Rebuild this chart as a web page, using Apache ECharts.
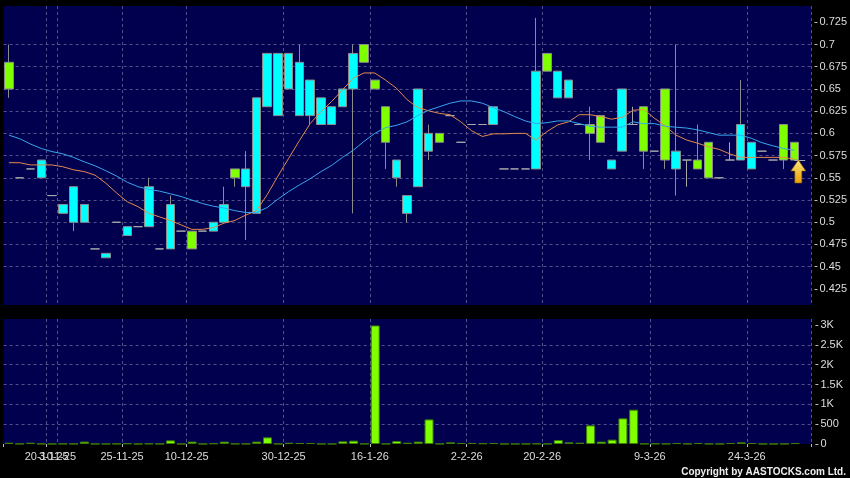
<!DOCTYPE html>
<html>
<head>
<meta charset="utf-8">
<script src="https://cdn.jsdelivr.net/npm/echarts@6/dist/echarts.min.js"></script>
<style>
html,body{margin:0;padding:0;background:#000;}
#chart{width:850px;height:478px;}
</style>
</head>
<body>
<div id="chart"></div>
<script>
// ---- data ----
const opens  = [0.68,0.55,0.56,0.55,0.53,0.51,0.50,0.50,0.47,0.46,0.50,0.485,0.495,0.495,0.47,0.47,0.49,0.49,0.49,0.49,
                0.50,0.56,0.54,0.51,0.63,0.62,0.65,0.62,0.62,0.61,0.61,0.63,0.65,0.70,0.66,0.63,0.55,0.51,0.54,0.58,
                0.60,0.62,0.59,0.61,0.61,0.61,0.56,0.56,0.56,0.56,0.69,0.64,0.64,0.61,0.61,0.62,0.56,0.58,0.61,0.63,
                0.58,0.65,0.56,0.57,0.57,0.59,0.55,0.57,0.57,0.56,0.58,0.57,0.61,0.59];
const closes = [0.65,0.55,0.56,0.57,0.53,0.52,0.54,0.52,0.47,0.465,0.50,0.495,0.495,0.54,0.47,0.52,0.49,0.47,0.49,0.50,
                0.52,0.55,0.56,0.64,0.69,0.69,0.69,0.68,0.66,0.64,0.63,0.65,0.69,0.68,0.65,0.59,0.57,0.53,0.65,0.60,
                0.59,0.62,0.59,0.61,0.61,0.63,0.56,0.56,0.56,0.67,0.67,0.67,0.66,0.61,0.60,0.59,0.57,0.65,0.61,0.58,
                0.58,0.57,0.58,0.57,0.56,0.55,0.55,0.57,0.61,0.59,0.58,0.57,0.57,0.57];
const lows   = [0.64,0.55,0.56,0.55,0.53,0.51,0.49,0.50,0.47,0.46,0.50,0.485,0.495,0.495,0.47,0.47,0.49,0.47,0.49,0.49,
                0.50,0.54,0.48,0.51,0.63,0.62,0.65,0.62,0.61,0.61,0.61,0.63,0.51,0.68,0.65,0.56,0.54,0.50,0.54,0.57,
                0.59,0.62,0.59,0.61,0.61,0.61,0.56,0.56,0.56,0.56,0.67,0.64,0.64,0.61,0.57,0.59,0.56,0.58,0.61,0.56,
                0.58,0.56,0.53,0.54,0.56,0.55,0.55,0.57,0.57,0.56,0.58,0.57,0.56,0.57];
const highs  = [0.70,0.55,0.56,0.57,0.53,0.52,0.54,0.52,0.47,0.465,0.50,0.495,0.495,0.55,0.47,0.53,0.49,0.49,0.49,0.50,
                0.54,0.56,0.58,0.64,0.69,0.69,0.69,0.70,0.66,0.64,0.63,0.65,0.70,0.70,0.66,0.63,0.57,0.53,0.65,0.61,
                0.60,0.62,0.59,0.61,0.61,0.63,0.56,0.56,0.56,0.73,0.69,0.67,0.66,0.61,0.63,0.62,0.57,0.65,0.63,0.63,
                0.58,0.65,0.70,0.57,0.61,0.59,0.55,0.59,0.66,0.59,0.58,0.57,0.61,0.59];
const volumes = [33,5,33,5,3,5,5,60,3,3,5,15,3,10,3,92,3,60,3,15,
                 60,5,5,60,168,5,33,25,25,3,3,67,84,5,2990,5,75,33,60,620,
                 5,42,25,25,17,25,3,3,3,10,5,100,42,33,470,60,110,647,865,5,
                 10,5,25,5,25,5,3,25,42,25,3,3,5,25];
const maShort = [0.567,0.567,0.5645,0.5645,0.5645,0.5625,0.559,0.557,0.553,0.544,0.533,0.523,0.5175,0.510,0.506,0.502,0.497,0.492,0.492,0.494,
                 0.499,0.502,0.508,0.513,0.531,0.552,0.572,0.592,0.611,0.6245,0.636,0.649,0.662,0.668,0.668,0.660,0.651,0.638,0.629,0.6255,
                 0.6225,0.621,0.613,0.603,0.5965,0.5995,0.5995,0.600,0.600,0.5925,0.602,0.6095,0.613,0.621,0.621,0.619,0.616,0.618,0.626,0.627,
                 0.617,0.6085,0.598,0.5925,0.589,0.585,0.582,0.577,0.573,0.573,0.573,0.573,0.573,0.571];
const maLong  = [0.598,0.594,0.588,0.583,0.5795,0.577,0.573,0.568,0.5635,0.558,0.552,0.545,0.540,0.537,0.535,0.532,0.529,0.525,0.521,0.518,
                 0.516,0.513,0.511,0.511,0.5165,0.526,0.5345,0.542,0.549,0.557,0.564,0.573,0.581,0.591,0.600,0.6065,0.609,0.613,0.620,0.626,
                 0.630,0.634,0.6365,0.6365,0.634,0.629,0.6245,0.619,0.614,0.611,0.612,0.614,0.614,0.611,0.608,0.607,0.607,0.607,0.613,0.611,
                 0.611,0.608,0.607,0.606,0.604,0.601,0.598,0.598,0.598,0.5945,0.5895,0.586,0.583,0.581];
const labelIdx  = [4, 5, 11, 17, 26, 34, 43, 50, 60, 69];
const labelText = ['20-10-25','3-11-25','25-11-25','10-12-25','30-12-25','16-1-26','2-2-26','20-2-26','9-3-26','24-3-26'];
const priceTicks = [0.425,0.45,0.475,0.5,0.525,0.55,0.575,0.6,0.625,0.65,0.675,0.7,0.725];
const volTicks = [0,500,1000,1500,2000,2500,3000];

// ---- build ----
const N = opens.length + 1; // one empty slot at the right edge
const cats = Array.from({length: N}, (_, i) => 'd' + i);
const labelAt = {};
labelIdx.forEach((k, j) => { labelAt[k] = labelText[j]; });
const isLabeled = (i) => labelAt[i] !== undefined;
// the two overlapping first labels are split over two axes so neither is dropped
const overlapIdx = labelIdx[1];
const onMainAxis = (i) => isLabeled(i) && i !== overlapIdx;
const onOverlayAxis = (i) => i === overlapIdx;
const candles = opens.map((o, i) => [o, closes[i], lows[i], highs[i]]);
const last = closes.length - 1;

const FONT = "'Liberation Sans', Arial, sans-serif";
const PANEL = '#00004f';
const GRIDC = '#50508a';
const TXT = '#dcdcdc';
const L = 3.6, W = 807.8;
const BAND = W / N;

const dashed = {show: true, interval: (i) => isLabeled(i), lineStyle: {color: GRIDC, type: [3, 3], width: 1}};
const xLabel = (fn) => ({show: true, interval: fn, formatter: (v, i) => labelAt[i] || '',
                         hideOverlap: false, color: TXT, fontSize: 11, fontFamily: FONT, margin: 4,
                         padding: [0, BAND, 0, 0]});
const xTick = (fn) => ({show: true, length: 3, interval: fn, lineStyle: {color: '#bbbbbb'}});

const chart = echarts.init(document.getElementById('chart'), null, {renderer: 'canvas'});
chart.setOption({
  animation: false,
  backgroundColor: '#000000',
  textStyle: {fontFamily: FONT},
  grid: [
    {left: L, width: W, top: 0.1, height: 311},
    {left: L, width: W, top: 305.2, height: 138.8},
    {left: L, width: W, top: 6, height: 299, show: true, backgroundColor: PANEL, borderWidth: 0},
    {left: L, width: W, top: 319, height: 125, show: true, backgroundColor: PANEL, borderWidth: 0}
  ],
  xAxis: [
    {type: 'category', gridIndex: 0, data: cats, boundaryGap: true, show: false},
    {type: 'category', gridIndex: 1, data: cats, boundaryGap: true, offset: 3,
     axisLine: {show: false}, axisTick: xTick(onMainAxis), axisLabel: xLabel(onMainAxis),
     splitLine: {show: false}},
    {type: 'category', gridIndex: 2, data: cats, boundaryGap: true,
     axisLine: {show: false}, axisTick: {show: false}, axisLabel: {show: false}, splitLine: dashed},
    {type: 'category', gridIndex: 3, data: cats, boundaryGap: true, offset: 3,
     axisLine: {show: false}, axisTick: xTick(onOverlayAxis), axisLabel: xLabel(onOverlayAxis),
     splitLine: dashed}
  ],
  yAxis: [
    {type: 'value', gridIndex: 0, position: 'right', min: 0.4, max: 0.75, interval: 0.025, offset: 4,
     axisLine: {show: false},
     axisTick: {show: true, length: 3, customValues: priceTicks, lineStyle: {color: '#bbbbbb'}},
     axisLabel: {show: true, customValues: priceTicks, hideOverlap: false,
                 formatter: (v) => String(parseFloat(Number(v).toFixed(3))),
                 color: TXT, fontSize: 11, fontFamily: FONT, margin: 5},
     splitLine: {show: true, showMinLine: false, showMaxLine: false, lineStyle: {color: GRIDC, type: [3, 3], width: 1}}},
    {type: 'value', gridIndex: 1, position: 'right', min: 0, max: 3500, interval: 500, offset: 4,
     axisLine: {show: false},
     axisTick: {show: true, length: 3, customValues: volTicks, lineStyle: {color: '#bbbbbb'}},
     axisLabel: {show: true, customValues: volTicks, hideOverlap: false,
                 formatter: (v) => v >= 1000 ? (v / 1000) + 'K' : String(v),
                 color: TXT, fontSize: 11, fontFamily: FONT, margin: 5},
     splitLine: {show: true, showMinLine: false, showMaxLine: false, lineStyle: {color: GRIDC, type: [3, 3], width: 1}}},
    {type: 'value', gridIndex: 2, show: false, splitLine: {show: false}},
    {type: 'value', gridIndex: 3, show: false, splitLine: {show: false}}
  ],
  series: [
    {type: 'candlestick', xAxisIndex: 0, yAxisIndex: 0, data: candles, barWidth: 9, z: 3,
     itemStyle: {color: '#00ffff', color0: '#80ff00', borderColor: '#8c8c8c', borderColor0: '#8c8c8c',
                 borderColorDoji: '#a8a8a8', borderWidth: 1},
     markLine: {silent: true, symbol: ['none', 'none'], label: {show: false},
                lineStyle: {color: '#a8a8a8', type: 'solid', width: 1},
                data: [[{coord: [cats[last], closes[last]]}, {coord: [cats[last + 1], closes[last]]}]]},
     markPoint: {silent: true, label: {show: false},
                 data: [{coord: [cats[last], closes[last]],
                         symbol: 'path://M7.5,0 L15,11 L11,11 L11,23 L4,23 L4,11 L0,11 Z',
                         symbolSize: [15, 23], symbolOffset: [4, 11.5],
                         itemStyle: {color: new echarts.graphic.LinearGradient(0, 0, 0, 1, [
                           {offset: 0, color: '#ffe680'}, {offset: 1, color: '#e8a000'}]),
                           borderColor: '#8a5a00', borderWidth: 0.6}}]}},
    {type: 'line', xAxisIndex: 0, yAxisIndex: 0, data: maShort, symbol: 'none', z: 4,
     lineStyle: {color: '#e48a4c', width: 1}},
    {type: 'line', xAxisIndex: 0, yAxisIndex: 0, data: maLong, symbol: 'none', z: 4,
     lineStyle: {color: '#3aa6ec', width: 1}},
    {type: 'bar', xAxisIndex: 1, yAxisIndex: 1, data: volumes, barWidth: 9,
     itemStyle: {color: '#80ff00', borderColor: '#3d7d00', borderWidth: 1}}
  ],
  graphic: [
    {type: 'text', right: 4, bottom: 1, z: 10,
     style: {text: 'Copyright by AASTOCKS.com Ltd.', fill: '#eeeeee', font: 'bold 10px ' + FONT}}
  ]
});
</script>
</body>
</html>
